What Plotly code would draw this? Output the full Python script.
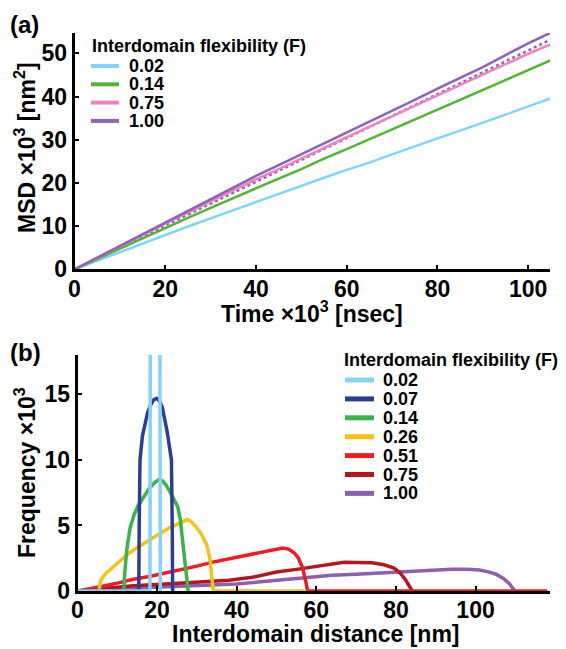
import plotly.graph_objects as go

# ---------------- data: panel (a) MSD vs time ----------------
time_a = [0, 5, 10, 15, 20, 25, 30, 35, 40, 45, 50, 55, 60, 65, 70, 75, 80, 85, 90, 95, 100, 105]
msd_002 = [0, 2.0, 4.0, 5.9, 7.9, 9.9, 11.8, 13.7, 15.6, 17.5, 19.3, 21.2, 23.0, 24.7, 26.6, 28.5, 30.3, 32.1, 33.9, 35.8, 37.7, 39.6]
msd_014 = [0, 2.4, 4.8, 7.2, 9.5, 11.9, 14.2, 16.5, 18.8, 21.0, 23.2, 25.6, 27.8, 30.1, 32.4, 34.7, 37.0, 39.3, 41.6, 43.9, 46.2, 48.4]
msd_075 = [0, 2.7, 5.3, 8.0, 10.6, 13.1, 15.7, 18.3, 20.8, 23.2, 25.6, 28.1, 30.6, 33.0, 35.4, 37.9, 40.3, 42.7, 45.1, 47.5, 49.9, 52.1]
msd_100 = [0, 2.7, 5.4, 8.2, 10.9, 13.5, 16.2, 19.0, 21.6, 24.1, 26.6, 29.1, 31.6, 34.2, 36.7, 39.2, 41.8, 44.3, 46.8, 49.6, 52.3, 54.8]
fit_t = [0, 105]
fit_100 = [0, 53.2]

series_a = [
    ("0.02", "#80d4f6", time_a, msd_002),
    ("0.14", "#52b335", time_a, msd_014),
    ("0.75", "#ec84c0", time_a, msd_075),
    ("1.00", "#8d62b7", time_a, msd_100),
]

# ---------------- data: panel (b) distance histograms ----------------
d_002 = [0, 18.2, 18.4, 20.6, 20.8]
f_002 = [0, 0, 45, 45, 0]
d_007 = [0, 15.4, 15.5, 15.7, 16.3, 17.0, 17.6, 18.4, 19.2, 19.9, 20.6, 21.3, 21.9, 22.5, 23.1, 23.6, 23.8, 23.9]
f_007 = [0, 0, 5.0, 10.0, 11.8, 12.9, 13.6, 14.2, 14.6, 14.7, 14.5, 14.0, 13.2, 12.2, 11.0, 10.0, 5.0, 0]
d_014 = [0, 11.6, 11.9, 12.4, 13.2, 14.2, 15.2, 16.5, 18.2, 19.5, 20.5, 21.4, 22.2, 23.2, 24.3, 25.2, 25.8, 26.3, 26.8, 27.3, 27.8]
f_014 = [0, 0, 1.5, 3.2, 4.8, 5.8, 6.5, 7.1, 7.9, 8.3, 8.5, 8.4, 8.1, 7.6, 7.0, 6.4, 5.5, 4.2, 3.0, 1.5, 0]
d_026 = [0, 5.4, 5.8, 7, 9, 11, 13, 15, 17, 19, 21, 23, 25, 26.5, 27.6, 28.5, 29.8, 31.2, 32.5, 33.3, 33.8, 34.1, 57]
f_026 = [0, 0, 0.8, 1.3, 1.85, 2.4, 2.9, 3.3, 3.7, 4.1, 4.45, 4.8, 5.1, 5.3, 5.45, 5.3, 4.9, 4.3, 3.5, 2.4, 1.2, 0, 0]
d_051 = [0, 3, 6, 10, 14, 18, 22, 26, 30, 34, 38, 42, 46, 49, 51.5, 53, 54.5, 55.5, 56.5, 57.3, 57.8, 118]
f_051 = [0, 0.15, 0.35, 0.6, 0.9, 1.1, 1.35, 1.65, 1.9, 2.2, 2.45, 2.75, 3.0, 3.15, 3.28, 3.2, 2.9, 2.5, 1.8, 0.8, 0, 0]
d_075 = [0, 3, 8, 14, 20, 26, 32, 38, 44, 50, 55, 60, 64, 67, 70, 74, 77, 79.5, 81, 82.3, 83.3, 84.1]
f_075 = [0, 0.1, 0.25, 0.4, 0.5, 0.62, 0.72, 0.82, 1.05, 1.45, 1.65, 1.9, 2.05, 2.2, 2.18, 2.15, 2.0, 1.75, 1.4, 0.9, 0.4, 0]
d_100 = [0, 5, 10, 16, 22, 28, 34, 40, 46, 52, 58, 64, 70, 76, 82, 88, 94, 98, 101, 103, 105, 107, 108.5, 109.9]
f_100 = [0, 0.05, 0.15, 0.25, 0.32, 0.4, 0.47, 0.53, 0.7, 0.88, 1.05, 1.2, 1.28, 1.38, 1.45, 1.55, 1.65, 1.65, 1.6, 1.48, 1.3, 0.95, 0.55, 0]

series_b = [
    ("0.02", "#85d3f2", d_002, f_002),
    ("0.07", "#2b3e97", d_007, f_007),
    ("0.14", "#3bb24a", d_014, f_014),
    ("0.26", "#f3c316", d_026, f_026),
    ("0.51", "#ed1c24", d_051, f_051),
    ("0.75", "#b5161e", d_075, f_075),
    ("1.00", "#8e5fae", d_100, f_100),
]

legend_title = "Interdomain flexibility (F)"

# ---------------- layout geometry ----------------
# The page body adds an 8 px margin, so the figure is 8 px smaller and every
# reference pixel coordinate is shifted by OFF.
OFF = 8
W, H = 566 - OFF, 649 - OFF
ML, MR, MT, MB = 74 - OFF, 16, 33 - OFF, 58
PW, PH = W - ML - MR, H - MT - MB


def px(x):
    return (x - OFF - ML) / PW


def py(y):
    return (H - MB - (y - OFF)) / PH


FONT = "Liberation Sans, Arial, Helvetica, sans-serif"

fig = go.Figure()

# panel (a)
fig.add_trace(go.Scatter(x=fit_t, y=fit_100, mode="lines", xaxis="x", yaxis="y",
                         line=dict(color="#8d62b7", width=2.5, dash="dot"), showlegend=False))
for name, color, xs, ys in series_a:
    fig.add_trace(go.Scatter(x=xs, y=ys, mode="lines", name=name, xaxis="x", yaxis="y",
                             line=dict(color=color, width=2.5), showlegend=False))

# panel (b) (draw 1.00 first, 0.02 last so it sits on top)
for name, color, xs, ys in reversed(series_b):
    fig.add_trace(go.Scatter(x=xs, y=ys, mode="lines", name=name, xaxis="x2", yaxis="y2",
                             line=dict(color=color, width=3.5), showlegend=False))

axis_common = dict(showline=True, linecolor="black", linewidth=2.5, ticks="inside",
                   ticklen=5, tickwidth=2, tickcolor="black", showgrid=False, zeroline=False,
                   layer="above traces",
                   tickfont=dict(family=FONT, size=23, color="black", weight="bold"))

fig.update_layout(
    width=W, height=H,
    margin=dict(l=ML, r=MR, t=MT, b=MB),
    paper_bgcolor="white", plot_bgcolor="white",
    showlegend=False,
    font=dict(family=FONT, color="black", weight="bold"),
    xaxis=dict(domain=[max(px(74.5), 0), 1], range=[0, 104.8], tickvals=[0, 20, 40, 60, 80, 100],
               anchor="y", ticklabelstandoff=-3, **axis_common),
    yaxis=dict(domain=[py(269.3), 1], range=[0, 54.7], tickvals=[0, 10, 20, 30, 40, 50],
               anchor="x", **axis_common),
    xaxis2=dict(domain=[px(77.5), 1], range=[0, 118.7], tickvals=[0, 20, 40, 60, 80, 100],
                anchor="y2", ticklabelstandoff=-3, **axis_common),
    yaxis2=dict(domain=[0, py(355)], range=[0, 18], tickvals=[0, 5, 10, 15],
                anchor="x2", **axis_common),
)

ann = []
shapes = []


def text(x, y, s, size, xanchor="center", angle=0):
    ann.append(dict(x=px(x), y=py(y), xref="paper", yref="paper", text=s, showarrow=False,
                    xanchor=xanchor, yanchor="middle", textangle=angle,
                    font=dict(family=FONT, size=size, color="black", weight="bold")))


# panel labels
text(OFF, 24, "(a)", 24, xanchor="left")
text(OFF, 352, "(b)", 24, xanchor="left")
# axis titles
text(312, 312, "Time ×10<sup>3</sup> [nsec]", 23)
text(25, 148, "MSD ×10<sup>3</sup> [nm<sup>2</sup>]", 23, angle=-90)
text(316, 634, "Interdomain distance [nm]", 23)
text(25, 473, "Frequency ×10<sup>3</sup>", 23, angle=-90)

# legends drawn as text + line samples
text(90, 46, legend_title, 18, xanchor="left")
for i, (name, color, _, _) in enumerate(series_a):
    yy = 66 + 18.3 * i
    shapes.append(dict(type="line", xref="paper", yref="paper", x0=px(91), x1=px(119),
                       y0=py(yy), y1=py(yy), line=dict(color=color, width=4)))
    text(127, yy, name, 18, xanchor="left")

text(342, 360, legend_title, 18, xanchor="left")
for i, (name, color, _, _) in enumerate(series_b):
    yy = 380 + 18.9 * i
    shapes.append(dict(type="line", xref="paper", yref="paper", x0=px(345), x1=px(374),
                       y0=py(yy), y1=py(yy), line=dict(color=color, width=5)))
    text(381, yy, name, 18, xanchor="left")

fig.update_layout(annotations=ann, shapes=shapes)

fig.write_html("out.html")
